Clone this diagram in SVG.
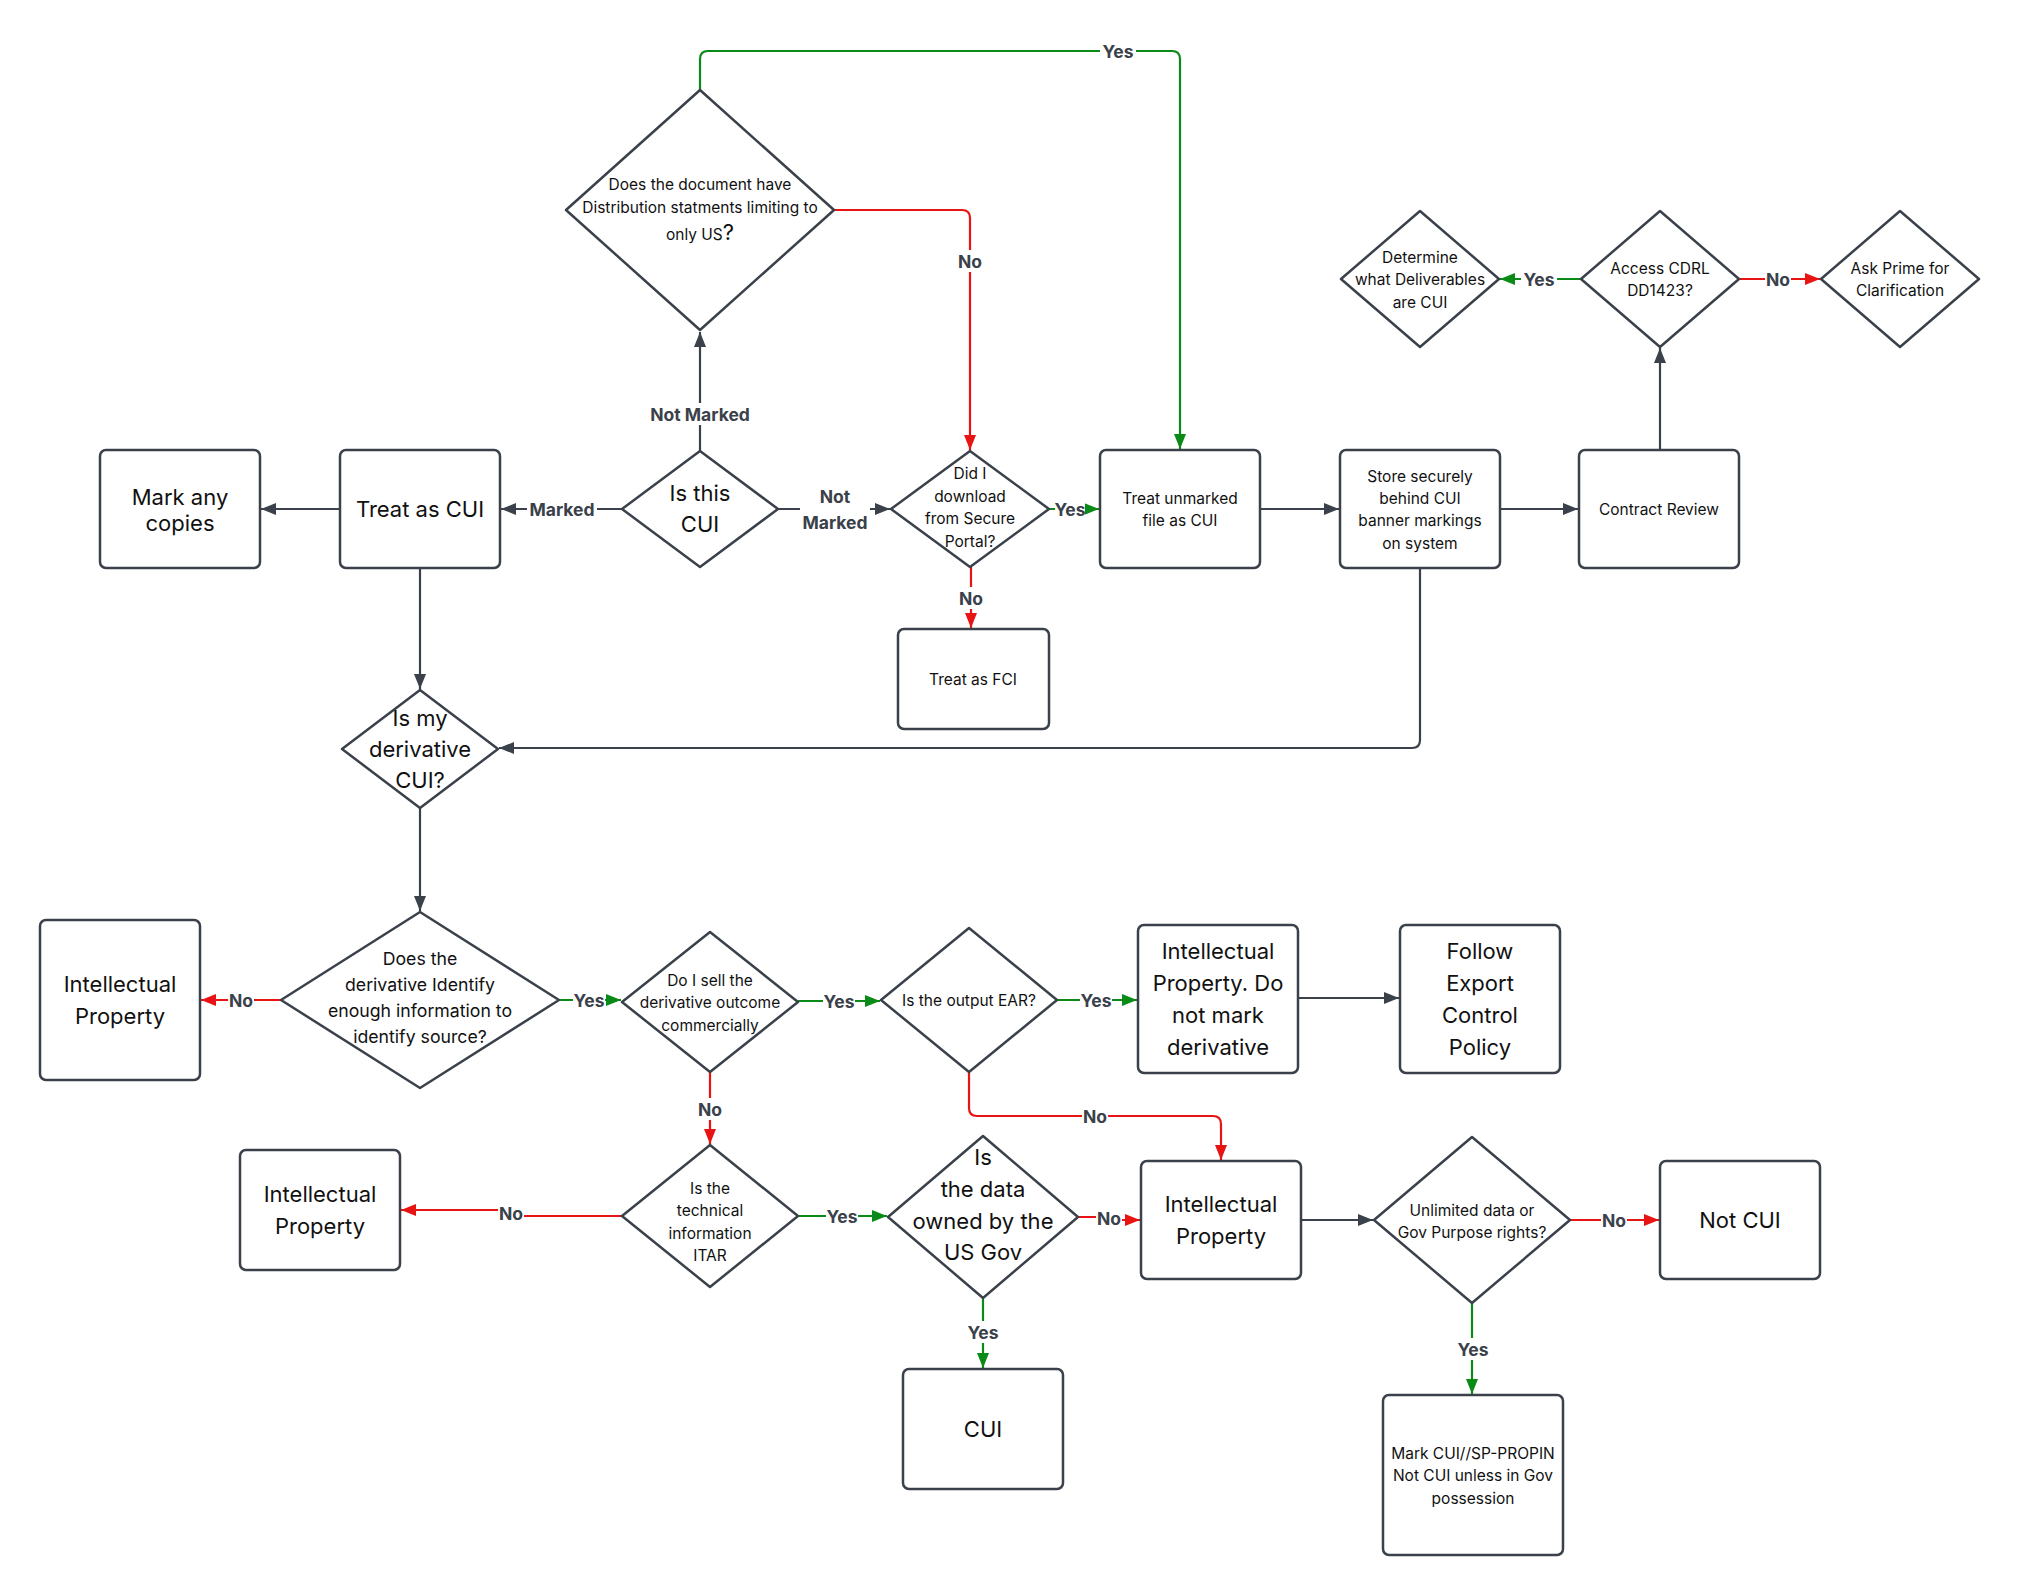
<svg xmlns="http://www.w3.org/2000/svg" width="2020" height="1596" viewBox="0 0 2020 1596">
<style>
.nd{fill:#fff;stroke:#3a414a;stroke-width:2.5;stroke-linejoin:round}
text{font-family:Inter,"Liberation Sans",sans-serif;fill:#111;text-anchor:middle}
.c{dominant-baseline:central}
.s14{font-size:15.5px}
.s16{font-size:17.7px}
.s20{font-size:22px}
.cn{fill:none;stroke-width:2.2;stroke-linejoin:round}
.dk{stroke:#3a414a}
.gr{stroke:#0a8a16}
.rd{stroke:#e81313}
.lb rect{fill:#fff}
.lb text{font-size:17.5px;font-weight:bold;fill:#3a414a;dominant-baseline:central}
</style>
<defs>
<marker id="ad" viewBox="0 0 15 12" refX="15" refY="6" markerWidth="15" markerHeight="12" markerUnits="userSpaceOnUse" orient="auto"><path d="M0,0 L15,6 L0,12 z" fill="#3a414a"/></marker>
<marker id="ag" viewBox="0 0 15 12" refX="15" refY="6" markerWidth="15" markerHeight="12" markerUnits="userSpaceOnUse" orient="auto"><path d="M0,0 L15,6 L0,12 z" fill="#0a8a16"/></marker>
<marker id="ar" viewBox="0 0 15 12" refX="15" refY="6" markerWidth="15" markerHeight="12" markerUnits="userSpaceOnUse" orient="auto"><path d="M0,0 L15,6 L0,12 z" fill="#e81313"/></marker>
</defs>
<rect width="2020" height="1596" fill="#fff"/>

<g id="connectors">
<path class="cn dk" d="M700 451 V332" marker-end="url(#ad)"/>
<path class="cn dk" d="M622 509 H501" marker-end="url(#ad)"/>
<path class="cn dk" d="M778 509 H890" marker-end="url(#ad)"/>
<path class="cn rd" d="M834 210 H962 Q970 210 970 218 V450" marker-end="url(#ar)"/>
<path class="cn gr" d="M700 90 V59 Q700 51 708 51 H1172 Q1180 51 1180 59 V449" marker-end="url(#ag)"/>
<path class="cn gr" d="M1049 509 H1099" marker-end="url(#ag)"/>
<path class="cn rd" d="M971 567 V628" marker-end="url(#ar)"/>
<path class="cn dk" d="M340 509 H261" marker-end="url(#ad)"/>
<path class="cn dk" d="M1260 509 H1339" marker-end="url(#ad)"/>
<path class="cn dk" d="M1500 509 H1578" marker-end="url(#ad)"/>
<path class="cn dk" d="M1660 450 V348" marker-end="url(#ad)"/>
<path class="cn gr" d="M1581 279 H1500" marker-end="url(#ag)"/>
<path class="cn rd" d="M1739 279 H1820" marker-end="url(#ar)"/>
<path class="cn dk" d="M1420 568 V740 Q1420 748 1412 748 H499" marker-end="url(#ad)"/>
<path class="cn dk" d="M420 568 V689" marker-end="url(#ad)"/>
<path class="cn dk" d="M420 808 V911" marker-end="url(#ad)"/>
<path class="cn rd" d="M281 1000 H201" marker-end="url(#ar)"/>
<path class="cn gr" d="M559 1000 H621" marker-end="url(#ag)"/>
<path class="cn gr" d="M798 1001 H880" marker-end="url(#ag)"/>
<path class="cn rd" d="M710 1072 V1144" marker-end="url(#ar)"/>
<path class="cn gr" d="M1057 1000 H1137" marker-end="url(#ag)"/>
<path class="cn rd" d="M969 1072 V1108 Q969 1116 977 1116 H1213 Q1221 1116 1221 1124 V1160" marker-end="url(#ar)"/>
<path class="cn dk" d="M1298 998 H1399" marker-end="url(#ad)"/>
<path class="cn rd" d="M622 1216 H511 V1210 H401" marker-end="url(#ar)"/>
<path class="cn gr" d="M798 1216 H887" marker-end="url(#ag)"/>
<path class="cn rd" d="M1078 1217 H1109 V1220 H1140" marker-end="url(#ar)"/>
<path class="cn gr" d="M983 1298 V1368" marker-end="url(#ag)"/>
<path class="cn dk" d="M1301 1220 H1373" marker-end="url(#ad)"/>
<path class="cn rd" d="M1570 1220 H1659" marker-end="url(#ar)"/>
<path class="cn gr" d="M1472 1303 V1394" marker-end="url(#ag)"/>

<g class="lb"><rect x="650" y="403" width="100" height="22"/><text x="700" y="414">Not Marked</text></g>
<g class="lb"><rect x="527" y="498" width="70" height="22"/><text x="562" y="509">Marked</text></g>
<g class="lb"><rect x="800" y="484" width="70" height="50"/><text x="835" y="496">Not</text><text x="835" y="522">Marked</text></g>
<g class="lb"><rect x="957" y="250" width="26" height="22"/><text x="970" y="261">No</text></g>
<g class="lb"><rect x="1100" y="40" width="36" height="22"/><text x="1118" y="51">Yes</text></g>
<g class="lb"><rect x="1055" y="498" width="30" height="22"/><text x="1070" y="509">Yes</text></g>
<g class="lb"><rect x="958" y="587" width="26" height="22"/><text x="971" y="598">No</text></g>
<g class="lb"><rect x="1521" y="268" width="36" height="22"/><text x="1539" y="279">Yes</text></g>
<g class="lb"><rect x="1765" y="268" width="26" height="22"/><text x="1778" y="279">No</text></g>
<g class="lb"><rect x="228" y="989" width="26" height="22"/><text x="241" y="1000">No</text></g>
<g class="lb"><rect x="573" y="989" width="32" height="22"/><text x="589" y="1000">Yes</text></g>
<g class="lb"><rect x="823" y="990" width="32" height="22"/><text x="839" y="1001">Yes</text></g>
<g class="lb"><rect x="697" y="1098" width="26" height="22"/><text x="710" y="1109">No</text></g>
<g class="lb"><rect x="1080" y="989" width="32" height="22"/><text x="1096" y="1000">Yes</text></g>
<g class="lb"><rect x="1082" y="1105" width="26" height="22"/><text x="1095" y="1116">No</text></g>
<g class="lb"><rect x="498" y="1202" width="26" height="22"/><text x="511" y="1213">No</text></g>
<g class="lb"><rect x="826" y="1205" width="32" height="22"/><text x="842" y="1216">Yes</text></g>
<g class="lb"><rect x="1096" y="1207" width="26" height="22"/><text x="1109" y="1218">No</text></g>
<g class="lb"><rect x="965" y="1321" width="36" height="22"/><text x="983" y="1332">Yes</text></g>
<g class="lb"><rect x="1601" y="1209" width="26" height="22"/><text x="1614" y="1220">No</text></g>
<g class="lb"><rect x="1455" y="1338" width="36" height="22"/><text x="1473" y="1349">Yes</text></g>
</g>

<g id="n_doc"><path class="nd" d="M700 90 L834 210 L700 330 L566 210 Z"/>
<text class="c s14" x="700" y="184">Does the document have</text>
<text class="c s14" x="700" y="207">Distribution statments limiting to</text>
<text class="s14" x="700" y="240">only US<tspan font-size="22">?</tspan></text></g>
<g id="n_iscui"><path class="nd" d="M700 451 L778 509 L700 567 L622 509 Z"/>
<text class="c s20" x="700" y="493">Is this</text><text class="c s20" x="700" y="524">CUI</text></g>
<g id="n_markcopies"><rect class="nd" x="100" y="450" width="160" height="118" rx="6"/>
<text class="c s20" x="180" y="497">Mark any</text><text class="c s20" x="180" y="523">copies</text></g>
<g id="n_treatcui"><rect class="nd" x="340" y="450" width="160" height="118" rx="6"/>
<text class="c s20" x="420" y="509">Treat as CUI</text></g>
<g id="n_download"><path class="nd" d="M970 451 L1049 509 L970 567 L891 509 Z"/>
<text class="c s14" x="970" y="473">Did I</text><text class="c s14" x="970" y="496">download</text>
<text class="c s14" x="970" y="518">from Secure</text><text class="c s14" x="970" y="541">Portal?</text></g>
<g id="n_fci"><rect class="nd" x="898" y="629" width="151" height="100" rx="6"/>
<text class="c s14" x="973" y="679">Treat as FCI</text></g>
<g id="n_unmarked"><rect class="nd" x="1100" y="450" width="160" height="118" rx="6"/>
<text class="c s14" x="1180" y="498">Treat unmarked</text><text class="c s14" x="1180" y="520">file as CUI</text></g>
<g id="n_store"><rect class="nd" x="1340" y="450" width="160" height="118" rx="6"/>
<text class="c s14" x="1420" y="476">Store securely</text><text class="c s14" x="1420" y="498">behind CUI</text>
<text class="c s14" x="1420" y="520">banner markings</text><text class="c s14" x="1420" y="543">on system</text></g>
<g id="n_contract"><rect class="nd" x="1579" y="450" width="160" height="118" rx="6"/>
<text class="c s14" x="1659" y="509">Contract Review</text></g>
<g id="n_determine"><path class="nd" d="M1420 211 L1499 279 L1420 347 L1341 279 Z"/>
<text class="c s14" x="1420" y="257">Determine</text><text class="c s14" x="1420" y="279">what Deliverables</text><text class="c s14" x="1420" y="302">are CUI</text></g>
<g id="n_access"><path class="nd" d="M1660 211 L1739 279 L1660 347 L1581 279 Z"/>
<text class="c s14" x="1660" y="268">Access CDRL</text><text class="c s14" x="1660" y="290">DD1423?</text></g>
<g id="n_ask"><path class="nd" d="M1900 211 L1979 279 L1900 347 L1821 279 Z"/>
<text class="c s14" x="1900" y="268">Ask Prime for</text><text class="c s14" x="1900" y="290">Clarification</text></g>
<g id="n_deriv"><path class="nd" d="M420 690 L498 749 L420 808 L342 749 Z"/>
<text class="c s20" x="420" y="718">Is my</text><text class="c s20" x="420" y="749">derivative</text><text class="c s20" x="420" y="780">CUI?</text></g>
<g id="n_identify"><path class="nd" d="M420 912 L559 1000 L420 1088 L281 1000 Z"/>
<text class="c s16" x="420" y="958">Does the</text><text class="c s16" x="420" y="984">derivative Identify</text>
<text class="c s16" x="420" y="1010">enough information to</text><text class="c s16" x="420" y="1036">identify source?</text></g>
<g id="n_ip1"><rect class="nd" x="40" y="920" width="160" height="160" rx="6"/>
<text class="c s20" x="120" y="984">Intellectual</text><text class="c s20" x="120" y="1016">Property</text></g>
<g id="n_sell"><path class="nd" d="M710 932 L798 1002 L710 1072 L622 1002 Z"/>
<text class="c s14" x="710" y="980">Do I sell the</text><text class="c s14" x="710" y="1002">derivative outcome</text><text class="c s14" x="710" y="1025">commercially</text></g>
<g id="n_ear"><path class="nd" d="M969 928 L1057 1000 L969 1072 L881 1000 Z"/>
<text class="c s14" x="969" y="1000">Is the output EAR?</text></g>
<g id="n_ipdonot"><rect class="nd" x="1138" y="925" width="160" height="148" rx="6"/>
<text class="c s20" x="1218" y="951">Intellectual</text><text class="c s20" x="1218" y="983">Property. Do</text>
<text class="c s20" x="1218" y="1015">not mark</text><text class="c s20" x="1218" y="1047">derivative</text></g>
<g id="n_export"><rect class="nd" x="1400" y="925" width="160" height="148" rx="6"/>
<text class="c s20" x="1480" y="951">Follow</text><text class="c s20" x="1480" y="983">Export</text>
<text class="c s20" x="1480" y="1015">Control</text><text class="c s20" x="1480" y="1047">Policy</text></g>
<g id="n_itar"><path class="nd" d="M710 1145 L798 1216 L710 1287 L622 1216 Z"/>
<text class="c s14" x="710" y="1188">Is the</text><text class="c s14" x="710" y="1210">technical</text>
<text class="c s14" x="710" y="1233">information</text><text class="c s14" x="710" y="1255">ITAR</text></g>
<g id="n_ip3"><rect class="nd" x="240" y="1150" width="160" height="120" rx="6"/>
<text class="c s20" x="320" y="1194">Intellectual</text><text class="c s20" x="320" y="1226">Property</text></g>
<g id="n_owned"><path class="nd" d="M983 1136 L1078 1217 L983 1298 L888 1217 Z"/>
<text class="c s20" x="983" y="1157">Is</text><text class="c s20" x="983" y="1189">the data</text>
<text class="c s20" x="983" y="1221">owned by the</text><text class="c s20" x="983" y="1252">US Gov</text></g>
<g id="n_cui"><rect class="nd" x="903" y="1369" width="160" height="120" rx="6"/>
<text class="c s20" x="983" y="1429">CUI</text></g>
<g id="n_ip4"><rect class="nd" x="1141" y="1161" width="160" height="118" rx="6"/>
<text class="c s20" x="1221" y="1204">Intellectual</text><text class="c s20" x="1221" y="1236">Property</text></g>
<g id="n_rights"><path class="nd" d="M1472 1137 L1570 1220 L1472 1303 L1374 1220 Z"/>
<text class="c s14" x="1472" y="1210">Unlimited data or</text><text class="c s14" x="1472" y="1232">Gov Purpose rights?</text></g>
<g id="n_notcui"><rect class="nd" x="1660" y="1161" width="160" height="118" rx="6"/>
<text class="c s20" x="1740" y="1220">Not CUI</text></g>
<g id="n_markcui"><rect class="nd" x="1383" y="1395" width="180" height="160" rx="6"/>
<text class="c s14" x="1473" y="1453">Mark CUI//SP-PROPIN</text><text class="c s14" x="1473" y="1475">Not CUI unless in Gov</text><text class="c s14" x="1473" y="1498">possession</text></g>
</svg>
